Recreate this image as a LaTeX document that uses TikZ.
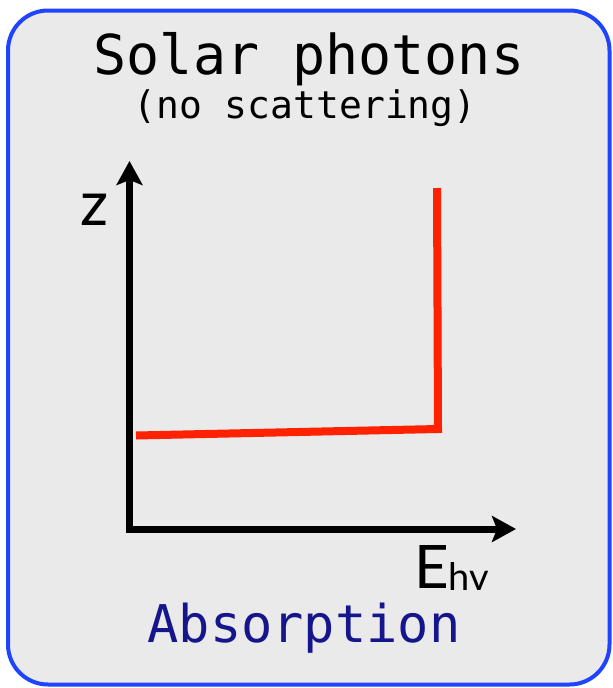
\documentclass[tikz,border=0pt]{standalone}
\usepackage{fontspec}
\usetikzlibrary{arrows.meta}
\newfontfamily\monofam{DejaVu Sans Mono}
\newfontfamily\labfam{Lato}
\definecolor{framefill}{HTML}{EAEAEA}
\definecolor{frameblue}{HTML}{1F44FF}
\definecolor{curvered}{HTML}{FF2200}
\definecolor{navytext}{HTML}{15158C}
\tikzset{
  frame/.style={draw=frameblue, fill=framefill, line width=4pt, rounded corners=40pt},
  axis/.style={line width=7pt, line join=miter, {Stealth[length=24pt,width=26pt,inset=5pt]}-{Stealth[length=24pt,width=26pt,inset=5pt]}},
  curve/.style={draw=curvered, line width=8pt, line join=miter},
  txt/.style={inner sep=0pt, anchor=base}
}
\begin{document}
\begin{tikzpicture}[x=1pt,y=-1pt]
\useasboundingbox (0,0) rectangle (613,688);
\draw[frame] (8,10.5) rectangle (609.5,684.5);
\node[txt] (title) at (309,74) {\monofam\fontsize{55}{55}\selectfont Solar photons};
\node[txt] (sub) at (305,118) {\monofam\fontsize{38}{38}\selectfont (no scattering)};
\coordinate (ytip) at (129.5,161);
\coordinate (origin) at (129.5,529);
\coordinate (xtip) at (516,529);
\draw[axis] (ytip) -- (origin) -- (xtip);
\coordinate (r1) at (136,435.5);
\coordinate (r2) at (438,429);
\coordinate (r3) at (437,188);
\draw[curve] (r1) -- (r2) -- (r3);
\node[txt] (z) at (95,225) {\labfam\fontsize{62}{62}\selectfont z};
\node[txt, anchor=base west] (E) at (414,588) {\labfam\fontsize{60}{60}\selectfont E\fontsize{38}{38}\selectfont\raisebox{-2pt}{hv}};
\node[txt, text=navytext] (abs) at (304,642) {\monofam\fontsize{52}{52}\selectfont Absorption};
\end{tikzpicture}
\end{document}
